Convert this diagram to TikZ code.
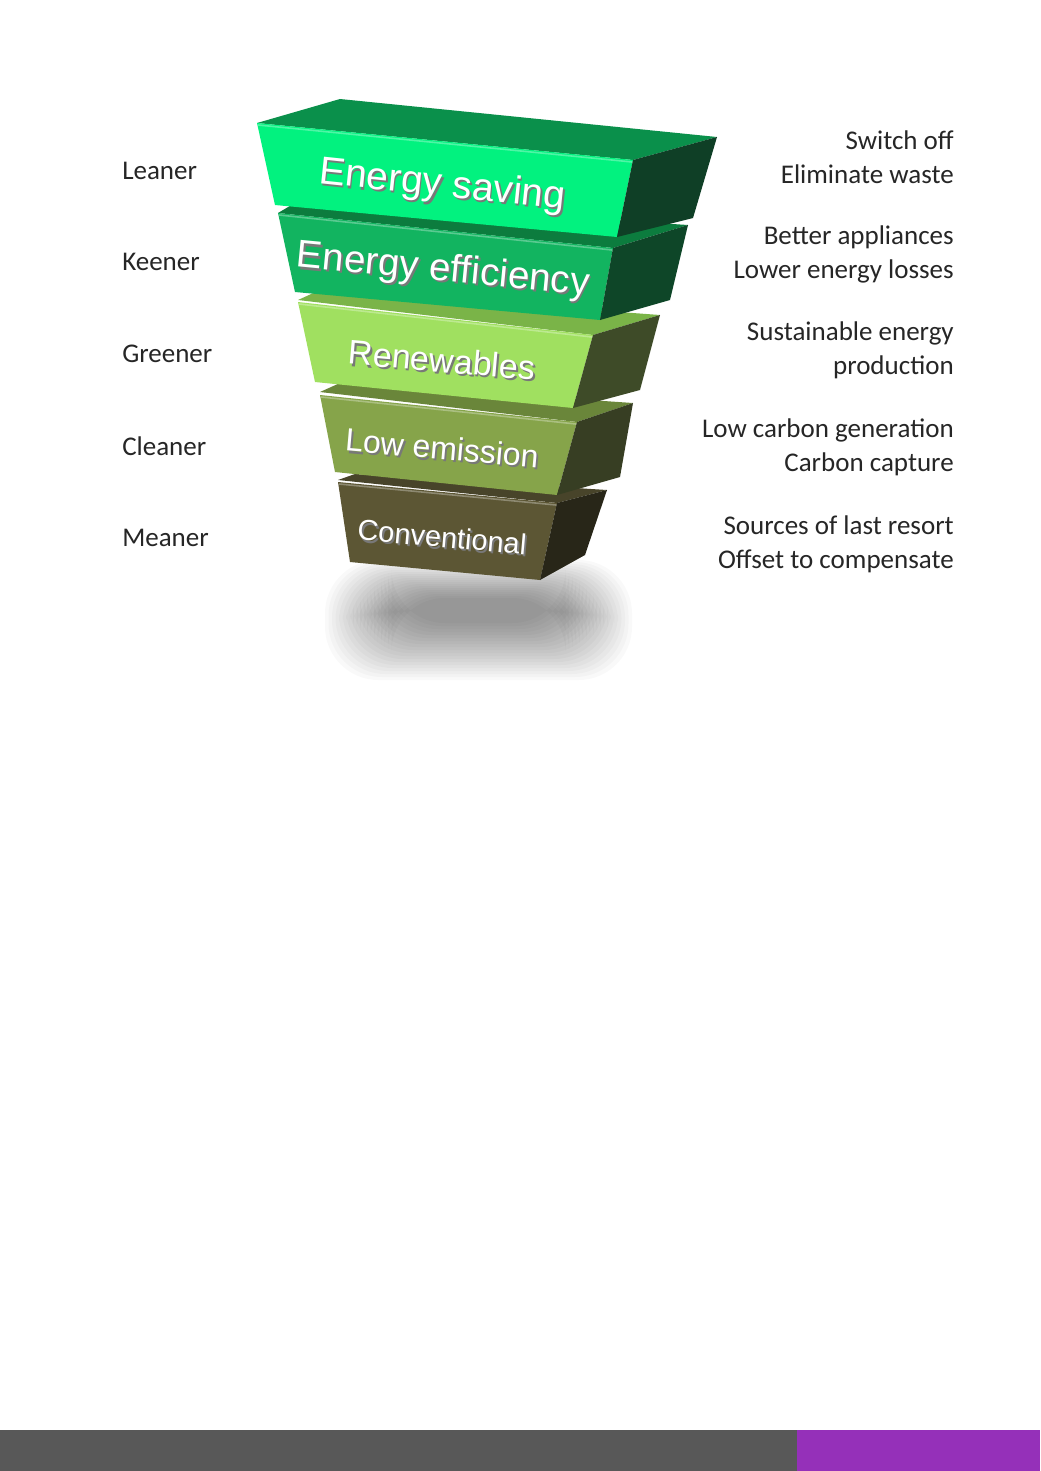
\documentclass[tikz,border=0pt]{standalone}
\usepackage{fontspec}
\setmainfont{Carlito}
\newfontfamily\tierfont{Liberation Sans}
\usepackage{xcolor}

\definecolor{savingFront}{RGB}{2,242,127}
\definecolor{savingTop}{RGB}{10,144,75}
\definecolor{savingSide}{RGB}{15,63,38}
\definecolor{effFront}{RGB}{18,180,96}
\definecolor{effTop}{RGB}{12,124,62}
\definecolor{effSide}{RGB}{14,70,40}
\definecolor{renewFront}{RGB}{160,224,96}
\definecolor{renewTop}{RGB}{122,180,72}
\definecolor{renewSide}{RGB}{62,75,40}
\definecolor{lowFront}{RGB}{134,164,74}
\definecolor{lowTop}{RGB}{106,134,58}
\definecolor{lowSide}{RGB}{55,62,35}
\definecolor{convFront}{RGB}{92,86,52}
\definecolor{convTop}{RGB}{72,68,42}
\definecolor{convSide}{RGB}{40,38,24}
\definecolor{tierShadow}{RGB}{120,120,120}
\definecolor{barGray}{RGB}{88,88,88}
\definecolor{barPurple}{RGB}{149,48,185}

\newcommand{\tiertxt}[1]{\makebox[0pt][l]{\hspace{1.5pt}\raisebox{-1.5pt}{\textcolor{tierShadow}{#1}}}\textcolor{white}{#1}}

\begin{document}
\begin{tikzpicture}[x=0.75pt,y=-0.75pt,
  sidetext/.style={text=black!85, font=\fontsize{20.25}{25.5}\selectfont, inner sep=0pt},
  tiertext/.style={inner sep=0pt},
  bevel/.style={white, opacity=0.3, line width=1.2pt}]
\fill[white] (0,0) rectangle (1040,1471);
\useasboundingbox (0,0) rectangle (1040,1471);

\foreach \k in {0,...,19}
  \fill[black, opacity=0.022, rounded corners=40pt] ({325+3.5*\k},{560+2*\k}) rectangle ({632-3.5*\k},{680-3*\k});

\fill[convTop] (338,480) -- (355,474) -- (607,490) -- (557,503) -- cycle;
\fill[convFront] (338,482) -- (557,503) -- (540,580) -- (350,562) -- cycle;
\fill[convSide] (557,503) -- (607,490) -- (585,555) -- (540,580) -- cycle;
\draw[bevel] (339,484) -- (556,505);
\node[tiertext, rotate=-5, font=\tierfont\fontsize{21.75}{24}\selectfont] (conv) at (442,538) {\tiertxt{Conventional}};

\fill[lowTop] (320,392) -- (340,383) -- (633,403) -- (577,422) -- cycle;
\fill[lowFront] (320,395) -- (577,422) -- (557,495) -- (335,472) -- cycle;
\fill[lowSide] (577,422) -- (633,403) -- (620,477) -- (557,495) -- cycle;
\draw[bevel] (321,397) -- (576,424);
\node[tiertext, rotate=-5, font=\tierfont\fontsize{24}{26}\selectfont] (low) at (442,449) {\tiertxt{Low emission}};

\fill[renewTop] (298,300) -- (320,290) -- (660,315) -- (593,335) -- cycle;
\fill[renewFront] (298,302) -- (593,335) -- (573,408) -- (315,382) -- cycle;
\fill[renewSide] (593,335) -- (660,315) -- (640,390) -- (573,408) -- cycle;
\draw[bevel] (299,304) -- (592,337);
\node[tiertext, rotate=-5, font=\tierfont\fontsize{25.5}{28}\selectfont] (renew) at (442,361) {\tiertxt{Renewables}};

\fill[effTop] (278,213) -- (300,200) -- (688,225) -- (613,248) -- cycle;
\fill[effFront] (278,213) -- (613,248) -- (600,320) -- (295,292) -- cycle;
\fill[effSide] (613,248) -- (688,225) -- (670,300) -- (600,320) -- cycle;
\draw[bevel] (279,215) -- (612,250);
\node[tiertext, rotate=-5.5, font=\tierfont\fontsize{29}{31}\selectfont] (eff) at (443,272) {\tiertxt{Energy efficiency}};

\fill[savingTop] (257,123) -- (340,99) -- (717,137) -- (633,160) -- cycle;
\fill[savingFront] (257,123) -- (633,160) -- (617,237) -- (275,205) -- cycle;
\fill[savingSide] (633,160) -- (717,137) -- (693,218) -- (617,237) -- cycle;
\draw[bevel] (258,125) -- (632,162);
\node[tiertext, rotate=-6, font=\tierfont\fontsize{29.25}{31}\selectfont] (saving) at (442,187) {\tiertxt{Energy saving}};

\node[sidetext, anchor=west] (leaner) at (122,171) {Leaner};
\node[sidetext, anchor=west] (keener) at (122,262) {Keener};
\node[sidetext, anchor=west] (greener) at (122,354) {Greener};
\node[sidetext, anchor=west] (cleaner) at (122,446) {Cleaner};
\node[sidetext, anchor=west] (meaner) at (122,538) {Meaner};

\node[sidetext, anchor=east, align=right] (wasteNote) at (954,157) {Switch off\\Eliminate waste};
\node[sidetext, anchor=east, align=right] (lossNote) at (954,254) {Better appliances\\Lower energy losses};
\node[sidetext, anchor=east, align=right] (prodNote) at (954,350) {Sustainable energy\\production};
\node[sidetext, anchor=east, align=right] (captureNote) at (954,447) {Low carbon generation\\Carbon capture};
\node[sidetext, anchor=east, align=right] (offsetNote) at (954,544) {Sources of last resort\\Offset to compensate};

\fill[barGray] (0,1430) rectangle (797,1471);
\fill[barPurple] (797,1430) rectangle (1040,1471);
\end{tikzpicture}
\end{document}
